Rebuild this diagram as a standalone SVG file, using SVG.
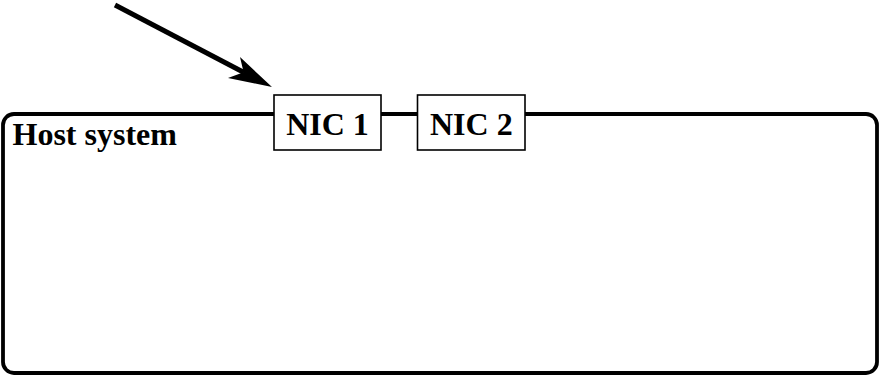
<svg xmlns="http://www.w3.org/2000/svg" width="880" height="376" viewBox="0 0 880 376">
<style>
.lbl{font-family:"Liberation Serif","Times New Roman",serif;font-weight:bold;font-size:32px;fill:#000}
.nic{fill:#fff;stroke:#000;stroke-width:1.6}
</style>
<rect width="880" height="376" fill="#fff"/>
<g id="host">
<rect x="3" y="114" width="874" height="259" rx="11" ry="11" fill="#fff" stroke="#000" stroke-width="3.8"/>
<text class="lbl" x="12.5" y="145">Host system</text>
</g>
<g id="nic1">
<rect class="nic" x="274" y="95" width="107" height="55"/>
<text class="lbl" x="327.5" y="135" text-anchor="middle">NIC 1</text>
</g>
<g id="nic2">
<rect class="nic" x="417.5" y="95" width="107.5" height="55"/>
<text class="lbl" x="471.3" y="135" text-anchor="middle">NIC 2</text>
</g>
<g id="connectors">
<line x1="115" y1="5" x2="244" y2="72.5" stroke="#000" stroke-width="5"/>
<polygon points="272,87 228,78 243.6,72.2 240,57" fill="#000"/>
</g>
</svg>
